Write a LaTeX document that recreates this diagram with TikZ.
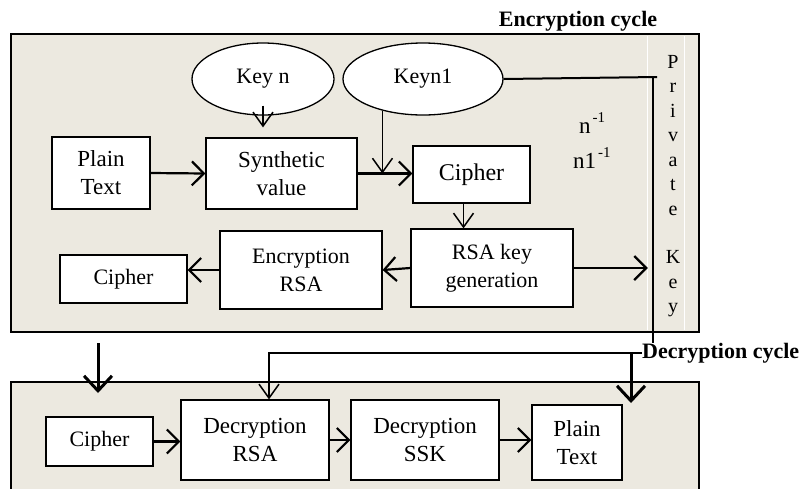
\documentclass[tikz,border=0pt]{standalone}
\usepackage{fontspec}
\setmainfont{Liberation Serif}
\usetikzlibrary{arrows.meta,shapes.geometric,calc}
\definecolor{panel}{HTML}{ECE9E0}
\begin{document}
\begin{tikzpicture}[x=1pt,y=-1pt,
  box/.style={draw=black, line width=1.2pt, fill=white, align=center, inner sep=0pt, font=\fontsize{23}{28}\selectfont},
  oval/.style={ellipse, draw=black, line width=1.3pt, fill=white, inner sep=0pt, font=\fontsize{22}{26}\selectfont},
  arr/.style={line width=2.2pt, -{Straight Barb[length=12pt,width=24pt,line width=2.2pt]}},
  tharr/.style={line width=1.5pt, -{Straight Barb[length=14pt,width=20pt,line width=1.5pt]}},
  bigarr/.style={line width=3pt, -{Straight Barb[length=15pt,width=28pt,line width=3pt]}},
  lbl/.style={font=\bfseries\fontsize{22}{26}\selectfont, inner sep=0pt},
  pk/.style={font=\fontsize{20}{22}\selectfont, inner sep=0pt, anchor=base},
  panelbox/.style={draw=black, line width=2.4pt, fill=panel}
]
\useasboundingbox (0,0) rectangle (810,488);
\clip (0,0) rectangle (810,488);

% panels
\draw[panelbox] (11,34) rectangle (699,332);
\draw[panelbox] (11,382) rectangle (699,530);

% private key strip
\node[draw=none, minimum width=36pt, minimum height=298pt, inner sep=0pt] (pkstrip) at (666,183) {};
\draw[white, line width=1pt] ([yshift=-2pt]pkstrip.north west) -- ([yshift=2pt]pkstrip.south west);
\draw[white, line width=1pt] ([yshift=-2pt]pkstrip.north east) -- ([yshift=2pt]pkstrip.south east);
\foreach \ch/\yy [count=\i] in {P/68,r/92.5,i/117,v/141.5,a/166,t/190.5,e/215,K/263,e/288,y/312}
  \node[pk] (pkl\i) at (673,\yy) {\ch};

% labels
\node[lbl] (enc) at (578,21) {Encryption cycle};
\node[lbl, anchor=west] (dc) at (642,353) {Decryption cycle};

% top nodes
\node[oval, minimum width=142pt, minimum height=72pt] (keyn) at (263,79) {Key n};
\node[oval, minimum width=160pt, minimum height=72pt] (keyn1) at (423,79) {Keyn1};
\node[box, minimum width=98pt, minimum height=72pt] (plain1) at (101,173) {Plain\\Text};
\node[box, minimum width=151pt, minimum height=71pt] (synth) at (281.5,173.5) {Synthetic\\value};
\node[box, minimum width=117pt, minimum height=57pt, font=\fontsize{24}{28}\selectfont] (cipher1) at (471.5,174.5) {Cipher};
\node[box, minimum width=162pt, minimum height=78pt, font=\fontsize{22}{28}\selectfont] (rsagen) at (492,268) {RSA key\\generation};
\node[box, minimum width=162pt, minimum height=78pt, font=\fontsize{22}{28}\selectfont] (encrsa) at (301,270) {Encryption\\RSA};
\node[box, minimum width=127pt, minimum height=48pt, font=\fontsize{22}{26}\selectfont] (cipher2) at (123.5,279) {Cipher};

% inverse labels
\node[anchor=base west, inner sep=0pt, font=\fontsize{23}{26}\selectfont] (ninv) at (579,133) {n\hspace{2pt}\raisebox{11pt}{\fontsize{15}{15}\selectfont -1}};
\node[anchor=base west, inner sep=0pt, font=\fontsize{23}{26}\selectfont] (n1inv) at (573,168) {n1\hspace{2pt}\raisebox{11pt}{\fontsize{15}{15}\selectfont -1}};

% bottom nodes
\node[box, minimum width=107pt, minimum height=49pt, font=\fontsize{22}{26}\selectfont] (cipher3) at (99.5,441.5) {Cipher};
\node[box, minimum width=148pt, minimum height=80pt] (decrsa) at (255,440) {Decryption\\RSA};
\node[box, minimum width=148pt, minimum height=80pt] (decssk) at (425,440) {Decryption\\SSK};
\node[box, minimum width=90pt, minimum height=75pt] (plain2) at (577,442.5) {Plain\\Text};

% coordinates
\coordinate (pkA) at (653,77);
\coordinate (pkB) at (653,343);
\coordinate (pkE) at (657,77);
\coordinate (la) at (98,343);
\coordinate (lb) at (98,393);
\coordinate (ra) at (631,352);
\coordinate (rb) at (631,403);

% top connectors
\draw[tharr] ([yshift=10pt]keyn.south) -- ([yshift=10pt]keyn.south |- synth.north);
\draw[tharr] (keyn1.-142) -- (keyn1.-142 |- synth.east);
\draw[arr] (plain1.east) -- (synth.west);
\draw[arr] (synth.east) -- (synth.east -| cipher1.west);
\draw[tharr] ([xshift=-8pt]cipher1.south) -- ([xshift=-8pt]cipher1.south |- rsagen.north);
\draw[arr] (rsagen.west) -- (encrsa.east);
\draw[arr] (encrsa.west) -- (encrsa.west -| cipher2.east);
\draw[arr] (rsagen.east) -- (rsagen.east -| pkstrip.west);
\draw[line width=2pt] (keyn1.east) -- (pkE);
\draw[line width=1.2pt] ([yshift=1pt]pkA) -- (pkB);

% between panels
\draw[bigarr] (la) -- (lb);
\draw[tharr] (dc.west) -| ([xshift=14pt]decrsa.north);
\draw[bigarr] (ra) -- (rb);

% bottom connectors
\draw[arr] (cipher3.east) -- (cipher3.east -| decrsa.west);
\draw[arr] (decrsa.east) -- (decssk.west);
\draw[arr] (decssk.east) -- (decssk.east -| plain2.west);
\end{tikzpicture}
\end{document}
